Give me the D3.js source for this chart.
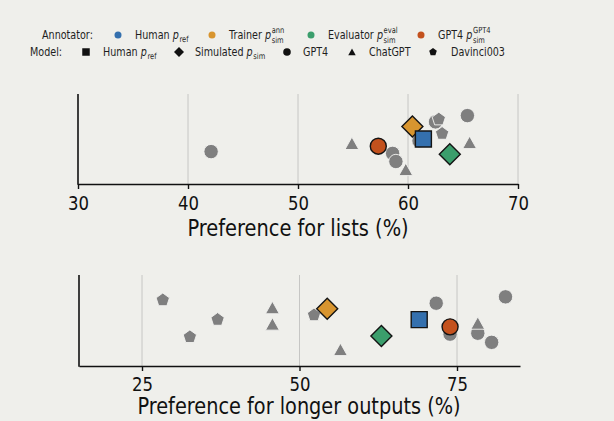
<!DOCTYPE html>
<html>
<head>
<meta charset="utf-8">
<script src="https://cdn.jsdelivr.net/npm/d3@7/dist/d3.min.js"></script>
<style>
  html, body { margin: 0; padding: 0; background: #efefeb; }
  svg { display: block; font-family: "DejaVu Sans", sans-serif; }
</style>
</head>
<body>
<svg id="chart" width="614" height="421"></svg>
<script>
// ---- data -------------------------------------------------------------
// Gray markers: models scored by the annotators (x = percentage, y = jitter 0..1)
const listsGPT4     = [[42.1, 0.36], [58.6, 0.34], [58.9, 0.25], [61.0, 0.48], [62.5, 0.69], [65.4, 0.76]];
const listsChatGPT  = [[54.9, 0.45], [59.8, 0.16], [65.6, 0.46]];
const listsDavinci  = [[62.8, 0.72], [63.1, 0.56]];
// Coloured markers: annotators
const listsHuman     = [61.4, 0.50];
const listsTrainer   = [60.4, 0.64];
const listsEvaluator = [63.8, 0.33];
const listsGPT4Ann   = [57.3, 0.42];

const lengthGPT4     = [[71.7, 0.69], [73.9, 0.35], [78.3, 0.36], [80.5, 0.26], [82.7, 0.76]];
const lengthChatGPT  = [[45.7, 0.64], [45.7, 0.46], [56.5, 0.18], [78.3, 0.47]];
const lengthDavinci  = [[28.3, 0.725], [32.6, 0.32], [37.0, 0.51], [52.3, 0.56]];
const lengthHuman     = [69.0, 0.51];
const lengthTrainer   = [54.4, 0.63];
const lengthEvaluator = [63.0, 0.33];
const lengthGPT4Ann   = [73.9, 0.43];

const listsTicks  = [30, 40, 50, 60, 70];
const lengthTicks = [25, 50, 75];

const COLORS = { human: "#3470ae", trainer: "#d8952f", evaluator: "#3b9e6c", gpt4: "#c3511d", gray: "#7f7f7f" };
const SX = 0.87;  // horizontal squeeze applied to axis lettering
const LSX = 0.8;  // horizontal squeeze applied to legend lettering

// ---- marker paths -----------------------------------------------------
function pentagonPath(r) {
  const pts = d3.range(5).map(i => {
    const a = -Math.PI / 2 + i * 2 * Math.PI / 5;
    return [r * Math.cos(a), r * Math.sin(a)];
  });
  return "M" + pts.map(p => p.join(",")).join("L") + "Z";
}
function trianglePath(r) {
  const h = r * 1.5, w = r * Math.sqrt(3);
  return `M0,${-h / 2 - r * 0.05}L${w / 2},${h / 2}L${-w / 2},${h / 2}Z`;
}
function squarePath(s) { return `M${-s / 2},${-s / 2}h${s}v${s}h${-s}Z`; }
function diamondPath(r) { return `M0,${-r}L${r},0L0,${r}L${-r},0Z`; }
function circlePath(r) { return d3.arc()({ innerRadius: 0, outerRadius: r, startAngle: 0, endAngle: 2 * Math.PI }); }

const svg = d3.select("#chart");

// text placed at (x, y) and squeezed horizontally about its anchor
function label(parent, x, y, str, size, anchor, sx) {
  return parent.append("text")
    .attr("transform", `translate(${x},${y}) scale(${sx || SX},1)`)
    .attr("text-anchor", anchor || "start")
    .attr("font-size", size)
    .text(str);
}

// ---- one panel ----------------------------------------------------------
function panel(cfg) {
  const x = d3.scaleLinear().domain(cfg.domain).range([cfg.left, cfg.right]);
  const y = d3.scaleLinear().domain([0, 1]).range([cfg.bottom, cfg.top]);
  const g = svg.append("g");

  // vertical grid
  g.selectAll("line.grid").data(cfg.ticks.filter(t => x(t) > cfg.left + 1))
    .join("line").attr("class", "grid")
    .attr("x1", d => x(d)).attr("x2", d => x(d))
    .attr("y1", cfg.top).attr("y2", cfg.bottom)
    .attr("stroke", "#c6c6c4").attr("stroke-width", 1);

  // bottom axis
  const axis = d3.axisBottom(x).tickValues(cfg.ticks).tickSize(5).tickPadding(cfg.pad).tickSizeOuter(0);
  const ag = g.append("g").attr("transform", `translate(0,${cfg.bottom})`).call(axis);
  ag.select(".domain").attr("stroke", "#111").attr("stroke-width", 1.6);
  ag.selectAll(".tick line").attr("stroke", "#111").attr("stroke-width", 1.4);
  ag.selectAll(".tick text").attr("fill", "#111").attr("font-size", 19)
    .attr("font-family", "DejaVu Sans, sans-serif")
    .attr("transform", `scale(${SX},1)`);

  // left spine
  g.append("line").attr("x1", cfg.left).attr("x2", cfg.left)
    .attr("y1", cfg.top).attr("y2", cfg.bottom + 0.8)
    .attr("stroke", "#111").attr("stroke-width", 1.6);

  // axis title
  label(g, cfg.labelX, cfg.labelY, cfg.label, cfg.labelSize, "middle").attr("fill", "#111");

  // gray model markers
  const gray = (data, pathFn) => g.append("g").selectAll("path").data(data).join("path")
    .attr("d", pathFn).attr("transform", d => `translate(${x(d[0])},${y(d[1])})`)
    .attr("fill", COLORS.gray).attr("stroke", "#f4f4f2").attr("stroke-width", 0.9);
  gray(cfg.gpt4, () => circlePath(7.2));
  gray(cfg.chatgpt, () => trianglePath(8));
  gray(cfg.davinci, () => pentagonPath(7));

  // coloured annotator markers
  const colored = (d, pathFn, col) => g.append("path")
    .attr("d", pathFn).attr("transform", `translate(${x(d[0])},${y(d[1])})`)
    .attr("fill", col).attr("stroke", "#141414").attr("stroke-width", 1.4);
  colored(cfg.gpt4Ann, circlePath(8), COLORS.gpt4);
  colored(cfg.trainer, diamondPath(10.5), COLORS.trainer);
  colored(cfg.evaluator, diamondPath(10.5), COLORS.evaluator);
  colored(cfg.human, squarePath(16), COLORS.human);
}

panel({
  domain: [30, 70], left: 78, right: 518, top: 94, bottom: 184, ticks: listsTicks, pad: 7.5,
  label: "Preference for lists (%)", labelX: 298, labelY: 235.5, labelSize: 22.3,
  gpt4: listsGPT4, chatgpt: listsChatGPT, davinci: listsDavinci,
  human: listsHuman, trainer: listsTrainer, evaluator: listsEvaluator, gpt4Ann: listsGPT4Ann
});
panel({
  domain: [15, 85], left: 79, right: 520, top: 275, bottom: 366, ticks: lengthTicks, pad: 6.5,
  label: "Preference for longer outputs (%)", labelX: 299, labelY: 414, labelSize: 22.2,
  gpt4: lengthGPT4, chatgpt: lengthChatGPT, davinci: lengthDavinci,
  human: lengthHuman, trainer: lengthTrainer, evaluator: lengthEvaluator, gpt4Ann: lengthGPT4Ann
});

// ---- legend -------------------------------------------------------------
const LFS = 12;
const SFS = LFS * 0.7;
const leg = svg.append("g").attr("fill", "#1e1e1e");

// "prefix p" followed by a stacked superscript / subscript, all in one text
function mathLabel(x0, yb, prefix, sub, sup) {
  const t = label(leg, x0, yb, "", LFS, "start", LSX);
  t.append("tspan").text(prefix);
  t.append("tspan").attr("font-style", "italic").text("p");
  if (sup) {
    const s = t.append("tspan").attr("font-size", SFS).attr("dx", 0.8).attr("dy", -6).text(sup);
    const w = s.node().getComputedTextLength();
    t.append("tspan").attr("font-size", SFS).attr("dx", -w).attr("dy", 10).text(sub);
  } else {
    t.append("tspan").attr("font-size", SFS).attr("dx", 0.8).attr("dy", 3).text(sub);
  }
}

const row1 = 35, row2 = 52;
label(leg, 42, row1 + 4, "Annotator:", LFS, "start", LSX);
const annItems = [
  { cx: 118, tx: 135, col: COLORS.human, prefix: "Human ", sub: "ref", sup: null },
  { cx: 212, tx: 229, col: COLORS.trainer, prefix: "Trainer ", sub: "sim", sup: "ann" },
  { cx: 311, tx: 328, col: COLORS.evaluator, prefix: "Evaluator ", sub: "sim", sup: "eval" },
  { cx: 421, tx: 438, col: COLORS.gpt4, prefix: "GPT4 ", sub: "sim", sup: "GPT4" }
];
annItems.forEach(it => {
  leg.append("circle").attr("cx", it.cx).attr("cy", row1).attr("r", 3.5).attr("fill", it.col);
  mathLabel(it.tx, row1 + 4, it.prefix, it.sub, it.sup);
});

label(leg, 30, row2 + 4, "Model:", LFS, "start", LSX);
const modelItems = [
  { cx: 86, tx: 103, path: squarePath(7.5), prefix: "Human ", sub: "ref" },
  { cx: 179, tx: 195, path: diamondPath(5), prefix: "Simulated ", sub: "sim" },
  { cx: 287, tx: 303, path: circlePath(3.8), text: "GPT4" },
  { cx: 352, tx: 369, path: trianglePath(4.3), text: "ChatGPT" },
  { cx: 433, tx: 451, path: pentagonPath(4), text: "Davinci003" }
];
modelItems.forEach(it => {
  leg.append("path").attr("d", it.path).attr("transform", `translate(${it.cx},${row2})`).attr("fill", "#111");
  if (it.text) label(leg, it.tx, row2 + 4, it.text, LFS, "start", LSX);
  else mathLabel(it.tx, row2 + 4, it.prefix, it.sub, null);
});
</script>
</body>
</html>
